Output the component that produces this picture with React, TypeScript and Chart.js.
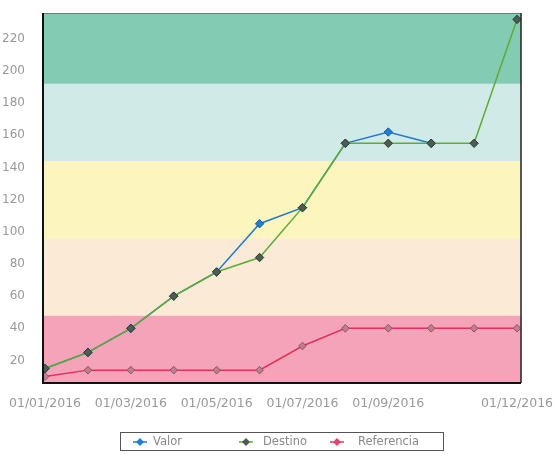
import React, { useEffect, useRef } from 'react';
import { Chart, registerables } from 'chart.js';

Chart.register(...registerables);

const monthLabels = [
  '01/01/2016', '01/02/2016', '01/03/2016', '01/04/2016', '01/05/2016', '01/06/2016',
  '01/07/2016', '01/08/2016', '01/09/2016', '01/10/2016', '01/11/2016', '01/12/2016',
];
const shownTickIndices = [0, 2, 4, 6, 8, 11];
const valor = [15, 25, 40, 60, 75, 105, 115, 155, 162, 155, null, null];
const destino = [15, 25, 40, 60, 75, 84, 115, 155, 155, 155, 155, 232];
const referencia = [10, 14, 14, 14, 14, 14, 29, 40, 40, 40, 40, 40];
const yTicks = [20, 40, 60, 80, 100, 120, 140, 160, 180, 200, 220];
const yMin = 6;
const yMax = 236;
const bandLimits = [6, 48, 96, 144, 192, 236];
const bandColors = ['#f5a3b8', '#fbebd6', '#fcf5bd', '#cfeae7', '#84cbb3'];
const seriesNames = ['Valor', 'Destino', 'Referencia'];

const LINE_COLORS = ['#2378cf', '#5fab35', '#e5305c'];
const POINT_FILLS = ['#1f7fd8', '#4d5c54', '#c27d8d'];
const POINT_BORDERS = ['#1a5a9a', '#2f3a34', '#8a5563'];
const LEGEND_MARKERS = ['#1f7fd8', '#4d5c54', '#e0466e'];

const toPoints = (arr: (number | null)[]) => arr.map((v, i) => ({ x: i, y: v }));

const bandsPlugin = {
  id: 'bands',
  beforeDatasetsDraw(chart: any) {
    const { ctx, chartArea, scales } = chart;
    const y = scales.y;
    ctx.save();
    for (let i = 0; i < bandColors.length; i++) {
      const top = y.getPixelForValue(bandLimits[i + 1]);
      const bottom = y.getPixelForValue(bandLimits[i]);
      ctx.fillStyle = bandColors[i];
      ctx.fillRect(chartArea.left, top, chartArea.right - chartArea.left, bottom - top);
    }
    ctx.restore();
  },
  afterDraw(chart: any) {
    const { ctx, chartArea } = chart;
    const { left, right, top, bottom } = chartArea;
    ctx.save();
    // frame
    ctx.strokeStyle = '#777';
    ctx.lineWidth = 1;
    ctx.beginPath();
    ctx.moveTo(left, top + 0.5);
    ctx.lineTo(right, top + 0.5);
    ctx.stroke();
    ctx.strokeStyle = '#222';
    ctx.lineWidth = 1.5;
    ctx.beginPath();
    ctx.moveTo(right, top);
    ctx.lineTo(right, bottom);
    ctx.stroke();
    ctx.lineWidth = 2;
    ctx.strokeStyle = '#111';
    ctx.beginPath();
    ctx.moveTo(left, top);
    ctx.lineTo(left, bottom);
    ctx.lineTo(right, bottom);
    ctx.stroke();

    // legend
    const boxL = 120, boxT = 432, boxW = 323, boxH = 18;
    ctx.strokeStyle = '#555';
    ctx.lineWidth = 1;
    ctx.strokeRect(boxL + 0.5, boxT + 0.5, boxW, boxH);
    const markerOff = [20, 126, 217];
    const textOff = [33, 143, 238];
    const cy = boxT + boxH / 2 + 1;
    ctx.font = '11.5px "DejaVu Sans"';
    ctx.textBaseline = 'middle';
    ctx.textAlign = 'left';
    seriesNames.forEach((name, i) => {
      const mx = boxL + markerOff[i];
      ctx.strokeStyle = LINE_COLORS[i];
      ctx.lineWidth = 1.5;
      ctx.beginPath();
      ctx.moveTo(mx - 7, cy);
      ctx.lineTo(mx + 7, cy);
      ctx.stroke();
      ctx.fillStyle = LEGEND_MARKERS[i];
      ctx.beginPath();
      ctx.moveTo(mx, cy - 4);
      ctx.lineTo(mx + 4, cy);
      ctx.lineTo(mx, cy + 4);
      ctx.lineTo(mx - 4, cy);
      ctx.closePath();
      ctx.fill();
      ctx.fillStyle = '#888';
      ctx.fillText(name, boxL + textOff[i], cy);
    });
    ctx.restore();
  },
};

export default function App() {
  const ref = useRef<HTMLCanvasElement | null>(null);
  useEffect(() => {
    if (!ref.current) return;
    const series = [valor, destino, referencia];
    const chart = new Chart(ref.current, {
      type: 'line',
      data: {
        datasets: series.map((arr, i) => ({
          label: seriesNames[i],
          data: toPoints(arr),
          borderColor: LINE_COLORS[i],
          backgroundColor: POINT_FILLS[i],
          borderWidth: 1.5,
          pointStyle: 'rectRot',
          pointRadius: i === 2 ? 3.8 : 4.2,
          pointBackgroundColor: POINT_FILLS[i],
          pointBorderColor: POINT_BORDERS[i],
          pointBorderWidth: 1,
          tension: 0,
          fill: false,
          order: [1, 0, 2][i],
        })) as any,
      },
      options: {
        responsive: false,
        animation: false,
        devicePixelRatio: 1,
        layout: { padding: { top: 13, right: 34, bottom: 0, left: 0 } },
        plugins: {
          legend: { display: false },
          tooltip: { enabled: false },
        },
        scales: {
          x: {
            type: 'linear',
            min: -0.047,
            max: 11.093,
            afterBuildTicks: (s: any) => {
              s.ticks = shownTickIndices.map((v) => ({ value: v }));
            },
            afterFit: (s: any) => {
              s.height = 72;
              s.paddingLeft = 0;
              s.paddingRight = 0;
              s.paddingTop = 0;
              s.paddingBottom = 0;
            },
            grid: { display: false },
            border: { display: false },
            ticks: {
              callback: (v: any) => monthLabels[v as number] ?? '',
              autoSkip: false,
              maxRotation: 0,
              color: '#999',
              font: { family: '"DejaVu Sans"', size: 12.5 },
              padding: 5,
            },
          },
          y: {
            type: 'linear',
            min: yMin,
            max: yMax,
            afterBuildTicks: (s: any) => {
              s.ticks = yTicks.map((v) => ({ value: v }));
            },
            afterFit: (s: any) => {
              s.width = 43;
              s.paddingLeft = 0;
              s.paddingRight = 0;
              s.paddingTop = 0;
              s.paddingBottom = 0;
            },
            grid: { display: false },
            border: { display: false },
            ticks: {
              color: '#999',
              font: { family: '"DejaVu Sans"', size: 12 },
              padding: 10,
            },
          },
        },
      },
      plugins: [bandsPlugin],
    });
    return () => chart.destroy();
  }, []);

  return (
    <div style={{ position: 'absolute', left: 0, top: 0, width: 555, height: 455, background: '#fff' }}>
      <canvas ref={ref} width={555} height={455} style={{ display: 'block' }} />
    </div>
  );
}
